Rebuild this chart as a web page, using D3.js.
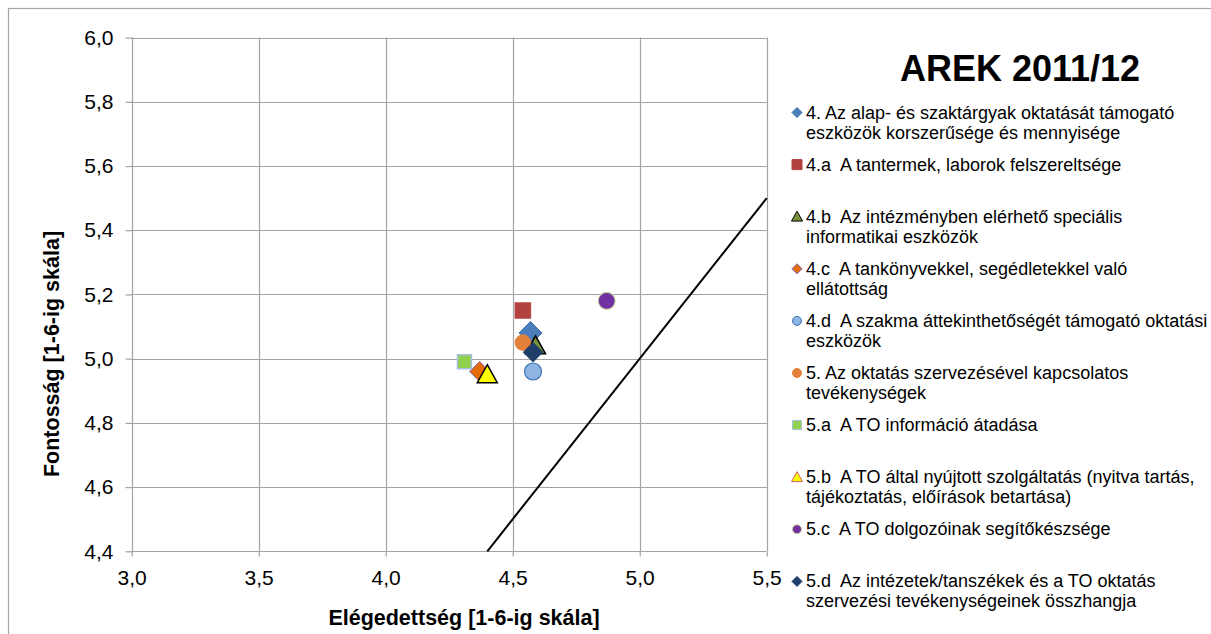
<!DOCTYPE html>
<html>
<head>
<meta charset="utf-8">
<script src="https://cdn.jsdelivr.net/npm/d3@7"></script>
<style>
  html, body { margin: 0; padding: 0; background: #fff; }
  svg { display: block; font-family: "Liberation Sans", Arial, sans-serif; }
</style>
</head>
<body>
<svg id="chart" width="1211" height="634"></svg>
<script>
// ---- data ----
const categories = [
  ["4. Az alap- és szaktárgyak oktatását támogató", "eszközök korszerűsége és mennyisége"],
  ["4.a  A tantermek, laborok felszereltsége"],
  ["4.b  Az intézményben elérhető speciális", "informatikai eszközök"],
  ["4.c  A tankönyvekkel, segédletekkel való", "ellátottság"],
  ["4.d  A szakma áttekinthetőségét támogató oktatási", "eszközök"],
  ["5. Az oktatás szervezésével kapcsolatos", "tevékenységek"],
  ["5.a  A TO információ átadása"],
  ["5.b  A TO által nyújtott szolgáltatás (nyitva tartás,", "tájékoztatás, előírások betartása)"],
  ["5.c  A TO dolgozóinak segítőkészsége"],
  ["5.d  Az intézetek/tanszékek és a TO oktatás", "szervezési tevékenységeinek összhangja"]
];
const satisfaction = [4.57, 4.54, 4.59, 4.37, 4.58, 4.54, 4.31, 4.40, 4.87, 4.58];
const importance   = [5.08, 5.15, 5.04, 4.96, 4.96, 5.05, 4.99, 4.95, 5.18, 5.02];
const diagonalX = [4.4, 5.5];
const diagonalY = [4.4, 5.5];
const xTicks = [3.0, 3.5, 4.0, 4.5, 5.0, 5.5];
const yTicks = [4.4, 4.6, 4.8, 5.0, 5.2, 5.4, 5.6, 5.8, 6.0];
const chartTitle = "AREK 2011/12";
const xTitle = "Elégedettség [1-6-ig skála]";
const yTitle = "Fontosság [1-6-ig skála]";

// ---- styles ----
const markerStyles = [
  {shape: "diamond",  r: 11.5, fill: "#4a7ebb", stroke: "#3f6fa8", sw: 1, lr: 5, lstroke: "#3f6fa8"},
  {shape: "square",   r: 8,    fill: "#b3423f", stroke: "#b3423f", sw: 0.5, lr: 5, lstroke: "#b3423f"},
  {shape: "triangle", r: 10,   fill: "#77933c", stroke: "#000", sw: 1.5, lr: 5.5, lstroke: "#000"},
  {shape: "diamond",  r: 10,   fill: "#e46c0a", stroke: "#7f60a0", sw: 1, lr: 5, lstroke: "#7f60a0"},
  {shape: "circle",   r: 8.5,  fill: "#8db4e2", stroke: "#3a70b0", sw: 1.2, lr: 4.5, lstroke: "#3a70b0"},
  {shape: "circle",   r: 8,    fill: "#e27f3a", stroke: "#e27f3a", sw: 0.5, lr: 4.5, lstroke: "#e27f3a"},
  {shape: "square",   r: 7,    fill: "#92d050", stroke: "#a7bfe0", sw: 1.5, lr: 4.5, lstroke: "#a7bfe0"},
  {shape: "triangle", r: 10,   fill: "#ffff00", stroke: "#000", sw: 1.5, lr: 5.5, lstroke: "#d0605a"},
  {shape: "circle",   r: 8.5,  fill: "#7030a0", stroke: "#c3d69b", sw: 1.2, lr: 4.5, lstroke: "#c3d69b"},
  {shape: "diamond",  r: 10,   fill: "#1f3f6a", stroke: "#1f3f6a", sw: 0.5, lr: 5, lstroke: "#1f3f6a"}
];

function markerPath(shape, r) {
  if (shape === "diamond") return `M0,${-r}L${r},0L0,${r}L${-r},0Z`;
  if (shape === "square") return `M${-r},${-r}H${r}V${r}H${-r}Z`;
  if (shape === "triangle") { const h = r * 1.0; return `M0,${-h}L${r},${h*0.8}L${-r},${h*0.8}Z`; }
  const p = d3.path(); p.arc(0, 0, r, 0, 2 * Math.PI); return p.toString();
}

const svg = d3.select("#chart");
const x = d3.scaleLinear().domain([3.0, 5.5]).range([131.7, 766.7]);
const y = d3.scaleLinear().domain([4.4, 6.0]).range([551.3, 37.6]);
const fmt = v => d3.format(".1f")(v).replace(".", ",");
const gridColor = "#a3a3a3";

// outer border
svg.append("rect").attr("x", 8.5).attr("y", 8.5).attr("width", 1210).attr("height", 640)
  .attr("fill", "none").attr("stroke", "#a6a6a6").attr("stroke-width", 1.2);

// gridlines
svg.append("g").selectAll("line.h").data(yTicks).join("line")
  .attr("x1", x(3.0)).attr("x2", x(5.5))
  .attr("y1", d => Math.round(y(d)) + 0.5).attr("y2", d => Math.round(y(d)) + 0.5)
  .attr("stroke", gridColor).attr("stroke-width", 1.2);
svg.append("g").selectAll("line.v").data(xTicks).join("line")
  .attr("y1", y(6.0)).attr("y2", y(4.4))
  .attr("x1", d => Math.round(x(d)) + 0.5).attr("x2", d => Math.round(x(d)) + 0.5)
  .attr("stroke", gridColor).attr("stroke-width", 1.2);

// axes
const yAxis = svg.append("g").attr("transform", `translate(${Math.round(x(3.0)) + 0.5},0)`)
  .call(d3.axisLeft(y).tickValues(yTicks).tickSize(7).tickPadding(12).tickFormat(fmt));
const xAxis = svg.append("g").attr("transform", `translate(0,${Math.round(y(4.4)) + 0.5})`)
  .call(d3.axisBottom(x).tickValues(xTicks).tickSize(5).tickPadding(14).tickFormat(fmt));
[yAxis, xAxis].forEach(g => {
  g.select(".domain").remove();
  g.selectAll(".tick line").attr("stroke", gridColor).attr("stroke-width", 1.2);
  g.selectAll(".tick text").attr("fill", "#000").style("font-size", "21px")
    .style("font-family", '"Liberation Sans", Arial, sans-serif');
});

// diagonal line
svg.append("path")
  .datum(diagonalX.map((d, i) => [d, diagonalY[i]]))
  .attr("d", d3.line().x(d => x(d[0])).y(d => y(d[1])))
  .attr("stroke", "#000").attr("stroke-width", 2).attr("fill", "none");

// points
const pts = satisfaction.map((d, i) => ({x: d, y: importance[i], s: markerStyles[i]}));
svg.append("g").selectAll("path").data(pts).join("path")
  .attr("transform", d => `translate(${x(d.x)},${y(d.y)})`)
  .attr("d", d => markerPath(d.s.shape, d.s.r))
  .attr("fill", d => d.s.fill).attr("stroke", d => d.s.stroke).attr("stroke-width", d => d.s.sw)
  .attr("stroke-linejoin", "miter");

// axis titles
svg.append("text").attr("x", 464).attr("y", 625).attr("text-anchor", "middle")
  .style("font-size", "21.5px").style("font-weight", "bold").text(xTitle);
svg.append("text").attr("transform", "translate(59,354) rotate(-90)").attr("text-anchor", "middle")
  .style("font-size", "21.5px").style("font-weight", "bold").text(yTitle);

// chart title
svg.append("text").attr("x", 1020).attr("y", 81).attr("text-anchor", "middle")
  .style("font-size", "36px").style("font-weight", "bold").text(chartTitle);

// legend
const legend = svg.append("g");
categories.forEach((lines, i) => {
  const cy = 112.5 + i * 52.1;
  const s = markerStyles[i];
  legend.append("path").attr("transform", `translate(797,${cy})`)
    .attr("d", markerPath(s.shape, s.lr))
    .attr("fill", s.fill).attr("stroke", s.lstroke).attr("stroke-width", 1);
  const t = legend.append("text").attr("x", 806).attr("y", cy + 6)
    .style("font-size", "18px").attr("xml:space", "preserve").style("white-space", "pre");
  lines.forEach((ln, j) => {
    t.append("tspan").attr("x", 806).attr("y", cy + 6 + j * 20).text(ln);
  });
});
</script>
</body>
</html>
